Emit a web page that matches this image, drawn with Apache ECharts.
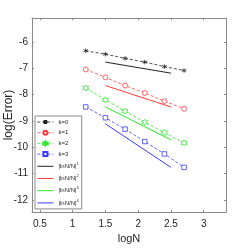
<!DOCTYPE html>
<html><head><meta charset="utf-8">
<script src="https://cdn.jsdelivr.net/npm/echarts@6/dist/echarts.min.js"></script>
<style>html,body{margin:0;padding:0;background:#fff}#c{width:249px;height:249px}</style>
</head><body><div id="c"></div>
<script>
const logN = [1.2, 1.5, 1.8, 2.1, 2.4, 2.7];
const k0 = [-6.34, -6.47, -6.63, -6.77, -6.94, -7.09];
const k1 = [-7.05, -7.35, -7.66, -7.94, -8.25, -8.54];
const k2 = [-7.75, -8.20, -8.63, -9.05, -9.44, -9.83];
const k3 = [-8.47, -8.88, -9.31, -9.78, -10.25, -10.76];
const refX = [1.5, 2.5];
const ref1 = [-6.77, -7.19];
const ref2 = [-7.66, -8.47];
const ref3 = [-8.47, -9.72];
const ref4 = [-9.11, -10.76];
const xTicks = [0.5, 1, 1.5, 2, 2.5, 3];
const yTicks = [-12, -11, -10, -9, -8, -7, -6];
const kNames = ['k=0', 'k=1', 'k=2', 'k=3'];
const refNames = ['|lnN/N|^1', '|lnN/N|^2', '|lnN/N|^3', '|lnN/N|^4'];

const colors = ['#222222', '#ff3b3b', '#2ee82e', '#3b3bff'];
const axisColor = '#8a8a8a';
const font = 'Liberation Sans, Arial, sans-serif';

const asterisk = 'path://M0,-5L0,5M-4.33,-2.5L4.33,2.5M-4.33,2.5L4.33,-2.5';
const hexagram = 'path://M0,-6L1.73,-3L5.2,-3L3.46,0L5.2,3L1.73,3L0,6L-1.73,3L-5.2,3L-3.46,0L-5.2,-3L-1.73,-3Z';
const symbols = [asterisk, 'circle', hexagram, 'rect'];
const symSizes = [4.5, 5, 6, 4.5];
const kData = [k0, k1, k2, k3];
const refData = [ref1, ref2, ref3, ref4];

const series = [];
kData.forEach((arr, i) => {
  series.push({
    name: kNames[i], type: 'line',
    data: logN.map((x, j) => [x, arr[j]]),
    symbol: symbols[i], symbolSize: symSizes[i],
    showAllSymbol: true,
    lineStyle: {color: colors[i], width: 0.8, type: [3, 2]},
    itemStyle: {color: i === 0 ? colors[i] : '#fff', borderColor: colors[i], borderWidth: 0.8},
    emphasis: {disabled: true}, animation: false, z: 3
  });
});
refData.forEach((arr, i) => {
  series.push({
    name: refNames[i], type: 'line',
    data: refX.map((x, j) => [x, arr[j]]),
    symbol: 'none',
    lineStyle: {color: colors[i], width: 1},
    itemStyle: {color: colors[i]},
    emphasis: {disabled: true}, animation: false, z: 2
  });
});

const legendData = kNames.map(n => ({name: n}))
  .concat(refNames.map(n => ({name: n, icon: 'path://M0,0H16V1H0Z'})));

const chart = echarts.init(document.getElementById('c'), null, {renderer: 'canvas'});
chart.setOption({
  animation: false,
  backgroundColor: '#fff',
  grid: {left: 32, right: 23, top: 18, bottom: 37, show: false, containLabel: false, outerBoundsMode: 'none'},
  xAxis: [{
    type: 'value', min: 0.38, max: 3.34, position: 'bottom',
    name: 'logN', nameLocation: 'middle', nameGap: 21, nameMoveOverlap: false,
    nameTextStyle: {fontFamily: font, fontSize: 11, color: '#262626'},
    axisLine: {show: true, lineStyle: {color: axisColor, width: 1}},
    axisTick: {show: true, inside: true, length: 2, customValues: xTicks, lineStyle: {color: axisColor}},
    axisLabel: {customValues: xTicks, fontFamily: font, fontSize: 10, color: '#262626', margin: 7},
    splitLine: {show: false}
  }, {
    type: 'value', min: 0.38, max: 3.34, position: 'top',
    axisLine: {show: true, onZero: false, lineStyle: {color: axisColor, width: 1}},
    axisTick: {show: true, inside: true, length: 2, customValues: xTicks, lineStyle: {color: axisColor}},
    axisLabel: {show: false}, splitLine: {show: false}
  }],
  yAxis: [{
    type: 'value', min: -12.45, max: -5.1, position: 'left',
    name: 'log(Error)', nameLocation: 'middle', nameGap: 17, nameMoveOverlap: false,
    nameTextStyle: {fontFamily: font, fontSize: 12, color: '#262626'},
    axisLine: {show: true, onZero: false, lineStyle: {color: axisColor, width: 1}},
    axisTick: {show: true, inside: true, length: 2, customValues: yTicks, lineStyle: {color: axisColor}},
    axisLabel: {customValues: yTicks, fontFamily: font, fontSize: 10, color: '#262626', margin: 4},
    splitLine: {show: false}
  }, {
    type: 'value', min: -12.45, max: -5.1, position: 'right',
    axisLine: {show: true, onZero: false, lineStyle: {color: axisColor, width: 1}},
    axisTick: {show: true, inside: true, length: 2, customValues: yTicks, lineStyle: {color: axisColor}},
    axisLabel: {show: false}, splitLine: {show: false}
  }],
  legend: {
    orient: 'vertical', left: 35, top: 116,
    data: legendData,
    itemWidth: 16, itemHeight: 5, itemGap: 4.7,
    padding: [3, 3, 3, 2],
    borderColor: axisColor, borderWidth: 1, borderRadius: 0,
    backgroundColor: '#fff',
    lineStyle: {width: 0.8},
    textStyle: {fontFamily: font, fontSize: 6, color: '#262626',
      rich: {s: {fontFamily: font, fontSize: 4, color: '#262626', verticalAlign: 'bottom', padding: [0, 0, 5, 0]}}},
    formatter: n => n.replace(/\^(\d)/, '{s|$1}'),
    selectedMode: false
  },
  series: series
});
</script></body></html>
